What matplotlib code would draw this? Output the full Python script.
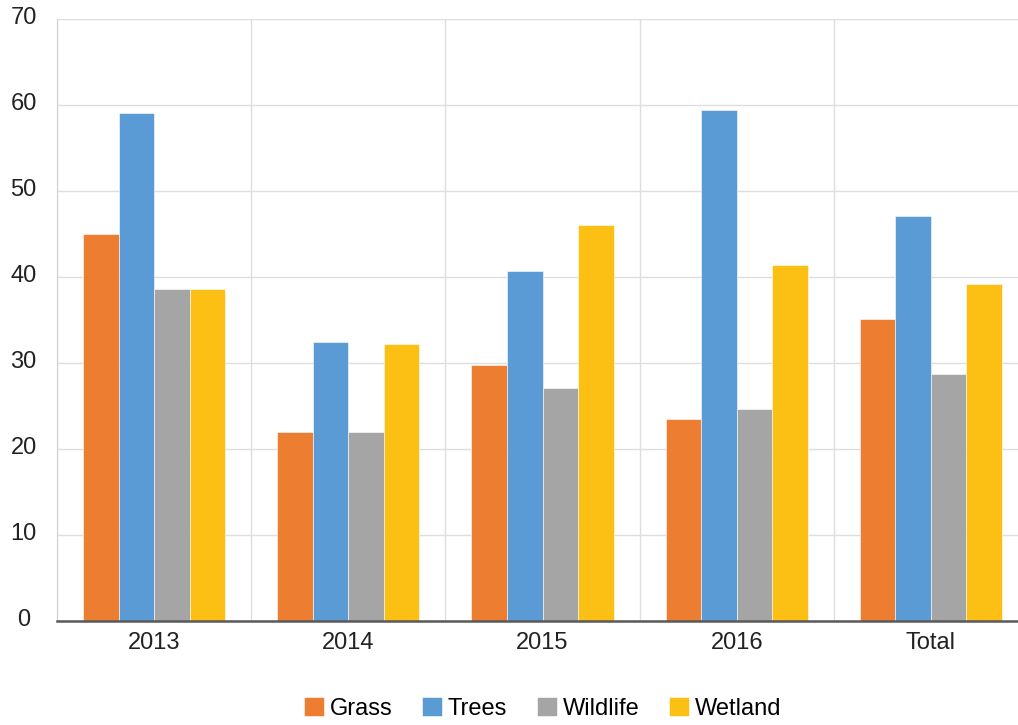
import numpy as np
import matplotlib.pyplot as plt
import matplotlib.transforms as mtransforms

plt.rcParams['font.family'] = ['Liberation Sans', 'DejaVu Sans']
plt.rcParams['font.size'] = 17

categories = ["2013", "2014", "2015", "2016", "Total"]
grass = [45.0, 22.0, 29.8, 23.5, 35.1]
trees = [59.1, 32.4, 40.7, 59.4, 47.1]
wildlife = [38.6, 22.0, 27.1, 24.6, 28.7]
wetland = [38.6, 32.2, 46.0, 41.4, 39.2]

series = [("Grass", grass, "#ED7D31"),
          ("Trees", trees, "#5B9BD5"),
          ("Wildlife", wildlife, "#A5A5A5"),
          ("Wetland", wetland, "#FCC015")]


def main():
    fig = plt.figure(figsize=(10.18, 7.25), dpi=100)
    ax = fig.add_axes([57 / 1018, 104 / 725, 971 / 1018, 602 / 725])

    x = np.arange(len(categories))
    width = 0.183
    for i, (name, vals, color) in enumerate(series):
        offset = (i - 1.5) * width
        ax.bar(x + offset, vals, width, color=color, label=name,
               edgecolor="white", linewidth=0.4, zorder=3)

    ax.set_xlim(-0.5, len(categories) - 0.5)
    ax.set_ylim(0, 70)
    ax.set_yticks(range(0, 71, 10))
    ax.set_xticks(x)
    ax.set_xticklabels(categories)

    # vertical lines between categories
    ax.set_xticks(np.arange(-0.5, len(categories), 1), minor=True)
    ax.grid(which="minor", axis="x", color="#dedede", linewidth=1, zorder=0)
    ax.grid(which="major", axis="y", color="#dedede", linewidth=1, zorder=0)

    ax.tick_params(axis="both", which="both", length=0)
    ax.tick_params(axis="x", pad=8, colors="#222222")
    ax.tick_params(axis="y", pad=24, colors="#222222")
    shift = mtransforms.ScaledTranslation(0, 4 / 100, fig.dpi_scale_trans)
    for lab in ax.get_yticklabels():
        lab.set_horizontalalignment("center")
        lab.set_transform(lab.get_transform() + shift)

    for s in ["top", "right"]:
        ax.spines[s].set_visible(False)
    ax.spines["left"].set_color("#d0d0d0")
    ax.spines["bottom"].set_color("#595959")
    ax.spines["bottom"].set_linewidth(1.8)
    ax.spines["bottom"].set_zorder(4)

    ax.legend(loc="center", bbox_to_anchor=(0.5, -0.145), ncol=4, frameon=False,
              handlelength=0.85, handleheight=0.85, handletextpad=0.25,
              columnspacing=1.25)

    fig.savefig("out.png", dpi=100)


if __name__ == "__main__":
    main()
